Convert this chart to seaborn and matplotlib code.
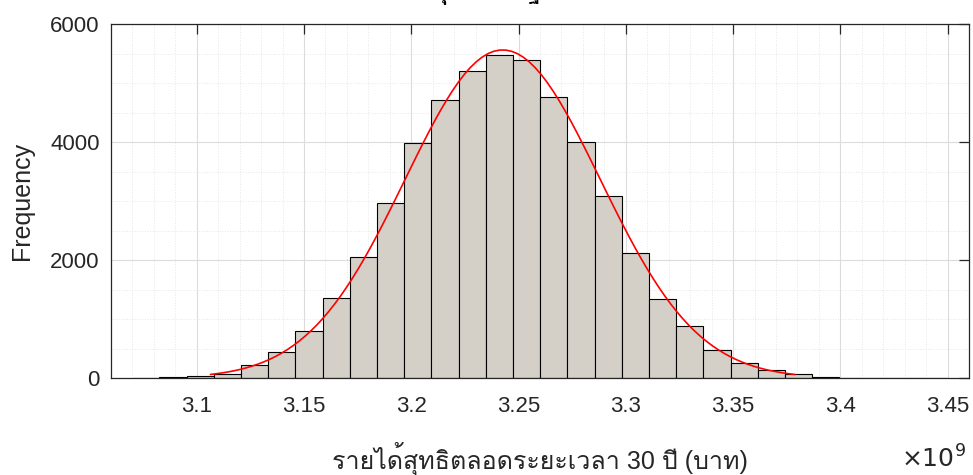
import numpy as np
import pandas as pd
import matplotlib
matplotlib.use("Agg")
import matplotlib.pyplot as plt
import seaborn as sns
from matplotlib import font_manager
from matplotlib.ft2font import FT2Font
from matplotlib.ticker import MultipleLocator, FuncFormatter

# Histogram: 30 equal bins between these limits
bin_start = 3.0699e9
bin_end = 3.4502e9
n_bins = 30
counts = [5, 25, 40, 75, 215, 451, 797, 1356, 2056, 2966,
          3983, 4712, 5214, 5480, 5401, 4763, 4010, 3095, 2119, 1339,
          875, 471, 257, 136, 68, 22, 6, 3, 2, 10]

# Normal fit shown by the red curve (mean, std)
fit_mu = 3.2426e9
fit_sigma = 0.0454e9

x_ticks = [3.1, 3.15, 3.2, 3.25, 3.3, 3.35, 3.4, 3.45]
title = "การแจกแจงรายได้สุทธิ กรณีฐาน จากการจำลองมอนติคาร์โล"
x_label = "รายได้สุทธิตลอดระยะเวลา 30 ปี (บาท)"
y_label = "Frequency"

# find an installed font that has Thai glyphs
thai_font = None
for path in sorted(font_manager.findSystemFonts()):
    try:
        if 0x0E23 in FT2Font(path).get_charmap():
            thai_font = font_manager.FontProperties(fname=path).get_name()
            if "Thai" in thai_font or "Loma" in thai_font or "Garuda" in thai_font:
                break
    except Exception:
        pass

sns.set_theme(style="white")
fonts = ["Liberation Sans", "DejaVu Sans"]
if thai_font:
    fonts.insert(1, thai_font)
plt.rcParams["font.family"] = fonts

edges = list(np.linspace(bin_start, bin_end, n_bins + 1))
centers = [(a + b) / 2 for a, b in zip(edges[:-1], edges[1:])]
df = pd.DataFrame({"value": centers, "count": counts})

fig = plt.figure(figsize=(9.73, 4.75), dpi=100)
ax = fig.add_axes([0.114, 0.204, 0.882, 0.745])

sns.histplot(data=df, x="value", weights="count", bins=edges, stat="count",
             color="#d4d0c8", edgecolor="black", linewidth=0.8, alpha=1, ax=ax)

# fitted normal curve over mean +/- 3 std, scaled to counts
xs = np.linspace(fit_mu - 3 * fit_sigma, fit_mu + 3 * fit_sigma, 100)
scale = sum(counts) * (edges[1] - edges[0])
ys = scale * np.exp(-0.5 * ((xs - fit_mu) / fit_sigma) ** 2) / (fit_sigma * np.sqrt(2 * np.pi))
sns.lineplot(x=xs, y=ys, color="red", linewidth=1.2, ax=ax)

ax.set_xlim(3.06e9, 3.46e9)
ax.set_ylim(0, 6000)
ax.xaxis.set_minor_locator(MultipleLocator(0.01e9))
ax.yaxis.set_major_locator(MultipleLocator(2000))
ax.yaxis.set_minor_locator(MultipleLocator(500))
ax.set_xticks([t * 1e9 for t in x_ticks])
ax.xaxis.set_major_formatter(FuncFormatter(lambda v, p: f"{v / 1e9:g}"))

ax.grid(which="major", color="#dcdcdc", linewidth=0.8, linestyle="-")
ax.grid(which="minor", color="#e6e6e6", linewidth=0.7, linestyle=":")
ax.set_axisbelow(True)

for s in ax.spines.values():
    s.set_visible(True)
    s.set_color("#262626")
    s.set_linewidth(0.9)
ax.tick_params(which="major", direction="in", length=7, width=0.9, color="#262626",
               top=True, right=True, labelsize=16, labelcolor="#262626")
ax.tick_params(axis="x", which="major", pad=13)
ax.tick_params(axis="y", which="major", pad=8)
ax.tick_params(which="minor", length=0)

ax.set_xlabel(x_label, fontsize=18, color="#262626", labelpad=18)
ax.set_ylabel(y_label, fontsize=18, color="#262626", labelpad=12)
fig.text(0.993, 0.004, r"$\times 10^9$", ha="right", va="bottom", fontsize=18, color="#262626")

# title sits above the top edge, only the lower marks show (as in the source)
fig.text(0.56, 1 + 1 / 475, title, ha="center", va="baseline", fontsize=16,
         fontweight="bold", color="black")

plt.savefig("out.png", dpi=100)
